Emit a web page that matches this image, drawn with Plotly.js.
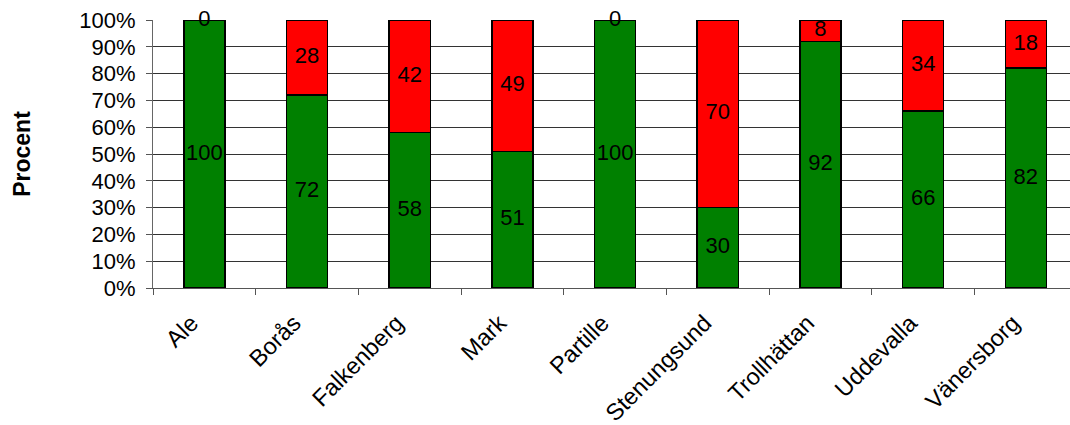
<!DOCTYPE html>
<html><head><meta charset="utf-8">
<script src="https://cdn.plot.ly/plotly-3.0.1.min.js"></script>
<style>html,body{margin:0;padding:0;background:#fff}#chart{width:1070px;height:425px}</style>
</head><body><div id="chart"></div>
<script>
const categories = ["Ale","Borås","Falkenberg","Mark","Partille","Stenungsund","Trollhättan","Uddevalla","Vänersborg"];
const greenValues = [100,72,58,51,100,30,92,66,82];
const redValues = [0,28,42,49,0,70,8,34,18];
const yTickVals = [0,10,20,30,40,50,60,70,80,90,100];
const yTickText = yTickVals.map(v => v + "%");

const FONT = "Liberation Sans, Arial, sans-serif";
const barLine = {color:"#000", width:1.5};

const green = {type:"bar", x:categories, y:greenValues, name:"Ja",
  marker:{color:"#008000", line:barLine}, width:0.4, hoverinfo:"x+y"};
const red = {type:"bar", x:categories, y:redValues, name:"Nej",
  marker:{color:"#FF0000", line:barLine}, width:0.4, hoverinfo:"x+y"};

// labels at segment midpoints, derived from data
const lx = [], ly = [], lt = [];
categories.forEach((c,i)=>{
  lx.push(c); ly.push(greenValues[i]/2); lt.push(String(greenValues[i]));
  lx.push(c); ly.push(greenValues[i]+redValues[i]/2); lt.push(String(redValues[i]));
});
const labels = {type:"scatter", mode:"text", x:lx, y:ly, text:lt,
  textposition:"middle center", textfont:{family:FONT, size:22, color:"#000"},
  hoverinfo:"skip", showlegend:false, cliponaxis:false};

const layout = {
  width:1070, height:425,
  margin:{l:153, r:0, t:20, b:137},
  barmode:"stack", showlegend:false,
  paper_bgcolor:"#fff", plot_bgcolor:"#fff",
  font:{family:FONT, size:22, color:"#000"},
  xaxis:{type:"category", range:[-0.5, 8.43], tickson:"boundaries",
    ticks:"outside", ticklen:6, tickcolor:"#555", tickangle:-45,
    showline:true, linecolor:"#555", linewidth:1, showgrid:false,
    ticklabelstandoff:11, ticklabelshift:-13,
    tickfont:{family:FONT, size:23.5, color:"#000"}},
  yaxis:{range:[0,100], tickmode:"array", tickvals:yTickVals, ticktext:yTickText,
    ticks:"outside", ticklen:6, tickcolor:"#555",
    showline:true, linecolor:"#666", linewidth:1,
    showgrid:true, gridcolor:"#333", gridwidth:1, zeroline:false,
    ticklabelstandoff:6,
    tickfont:{family:FONT, size:22, color:"#000"},
    title:{text:"<b>Procent</b>", font:{family:FONT, size:23, color:"#000"}, standoff:42}}
};

Plotly.newPlot("chart", [green, red, labels], layout, {displayModeBar:false, staticPlot:true});
</script></body></html>
